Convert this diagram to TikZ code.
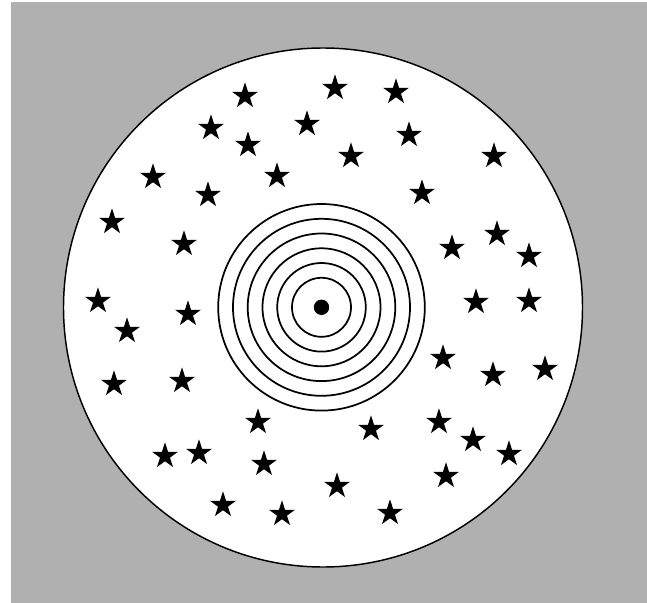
\documentclass[tikz,border=0pt]{standalone}
\usetikzlibrary{shapes.geometric}
\definecolor{bggray}{RGB}{176,176,176}
\tikzset{
  starshape/.style={star, star points=5, star point ratio=2.618, minimum size=20.5pt, inner sep=0pt, fill=black, draw=none},
  ringline/.style={draw=black, line width=1.3pt},
  discline/.style={draw=black, line width=1.1pt, fill=white}
}
\begin{document}
\begin{tikzpicture}[x=0.75pt,y=-0.75pt]
\useasboundingbox (0,0) rectangle (647,603);
\fill[white] (0,0) rectangle (647,603);
\fill[bggray] (11,2) rectangle (647,603);
\coordinate (disc) at (323,307.5);
\coordinate (ctr) at (321.5,307.3);
\path[discline] (disc) circle[radius=259.5*0.75pt];
\foreach \r in {29.5,44.3,59,73.8,88.5,103.3}
  \path[ringline] (ctr) circle[radius=\r*0.75pt];
\fill[black] (ctr) circle[radius=7.7*0.75pt];
\foreach \x/\y [count=\i] in {
245/96, 307/124, 211/128, 248/145, 277/176, 153/177, 208/195, 112/222, 184/244, 98/301,
335/88, 396/92, 409/135, 351/156, 494/156, 422/193, 497/234, 452/248, 529/256, 476/302, 529/301,
188/314, 127/331, 114/384, 182/381, 258/422, 199/453, 165/456, 264/464, 223/505, 282/514,
443/358, 545/369, 493/375, 439/422, 371/429, 473/440, 509/454, 446/476, 337/486, 390/513}
  \node[starshape] (s\i) at (\x,\y) {};
\end{tikzpicture}
\end{document}
